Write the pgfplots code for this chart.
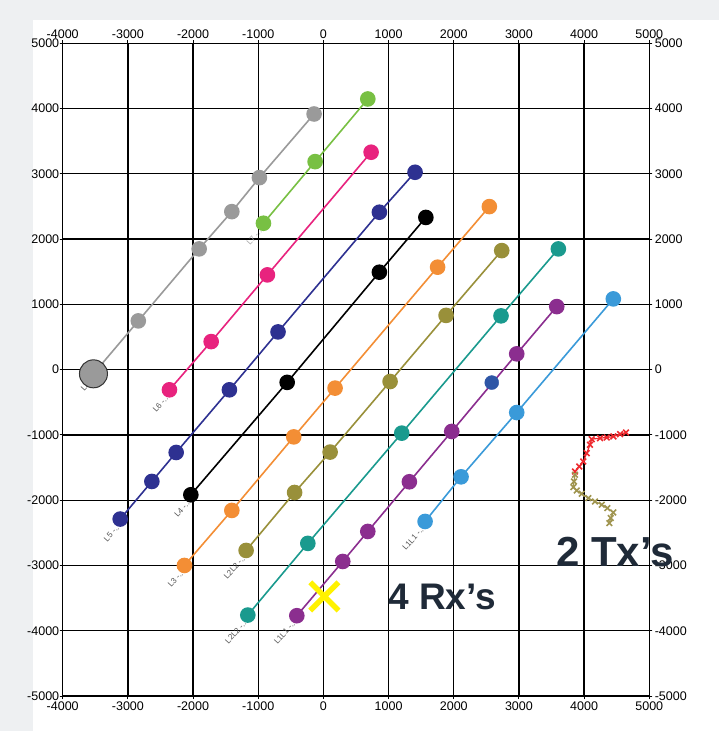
\documentclass[border=0pt]{standalone}
\usepackage{fontspec}
\setmainfont{Liberation Sans}
\usepackage{pgfplots}
\pgfplotsset{compat=1.18}
\definecolor{bgcol}{HTML}{EEF0F2}
\definecolor{cgray}{HTML}{9A9A9A}
\definecolor{cgreen}{HTML}{78C043}
\definecolor{cpink}{HTML}{E8237E}
\definecolor{cnavy}{HTML}{2E3191}
\definecolor{corange}{HTML}{F38E35}
\definecolor{colive}{HTML}{99903A}
\definecolor{cteal}{HTML}{1A9A8E}
\definecolor{cpurple}{HTML}{8B2E8F}
\definecolor{croyal}{HTML}{2E56A6}
\definecolor{clblue}{HTML}{3A9AD9}
\definecolor{cyellow}{HTML}{FFF200}
\definecolor{cred}{HTML}{EE2A2F}
\definecolor{ctxolive}{HTML}{A09550}
\definecolor{ctext}{HTML}{1F2A38}
\tikzset{lab/.style={font=\fontsize{8}{8}\selectfont, text=black!68, rotate=48, inner sep=0.5pt}}
\begin{document}
\begin{tikzpicture}
\fill[bgcol] (-62.7pt,-35pt) rectangle (656.3pt,696pt);
\fill[white] (-29.7pt,-35pt) rectangle (656.3pt,676pt);
\pgfplotsset{
  base/.style={
    scale only axis, width=586.6pt, height=652.7pt,
    at={(0pt,0pt)}, anchor=south west,
    xmin=-4000, xmax=5000, ymin=-5000, ymax=5000,
    xtick={-4000,-3000,...,5000}, ytick={-5000,-4000,...,5000},
    scaled ticks=false,
    /pgf/number format/1000 sep={},
    /pgf/number format/assume math mode=true,
    tick label style={font=\fontsize{12.5}{12.5}\selectfont, text=black},
    tick align=outside, major tick length=3pt,
    tick style={black, line width=1pt},
    axis line style={black, line width=1.4pt},
  },
  mk/.style={line width=1.6pt, mark=*, mark size=7pt, mark options={solid}},
}
\begin{axis}[base, grid=major, grid style={black, line width=1.3pt}, clip=false,
  xticklabel style={yshift=1pt}, yticklabel style={xshift=3pt}]
% L8 gray
\addplot[cgray, mk] coordinates {(-3528,-64) (-2840,747) (-1906,1850) (-1405,2421) (-982,2942) (-143,3917)};
\addplot[only marks, mark=*, mark size=14pt, mark options={fill=cgray, draw=black!80, line width=1pt}] coordinates {(-3528,-64)};
% L7 green
\addplot[cgreen, mk] coordinates {(-920,2243) (-127,3187) (681,4147)};
% L6 pink
\addplot[cpink, mk] coordinates {(-2362,-309) (-1722,430) (-859,1452) (732,3331)};
% L5 navy
\addplot[cnavy, mk] coordinates {(-3118,-2289) (-2632,-1713) (-2259,-1269) (-1442,-309) (-696,578) (859,2412) (1406,3024)};
% L4 black
\addplot[black, mk] coordinates {(-2034,-1917) (-556,-195) (859,1493) (1572,2332)};
% L3 orange
\addplot[corange, mk] coordinates {(-2132,-3000) (-1405,-2157) (-455,-1030) (179,-283) (1752,1570) (2546,2498)};
% L2 olive
\addplot[colive, mk] coordinates {(-1186,-2770) (-442,-1882) (103,-1263) (1023,-182) (1882,831) (2736,1824)};
% L2 teal
\addplot[cteal, mk] coordinates {(-1160,-3760) (-239,-2662) (1202,-973) (2725,824) (3605,1850)};
% L1 purple
\addplot[cpurple, mk] coordinates {(-408,-3770) (297,-2939) (681,-2479) (1319,-1718) (1969,-947) (2966,242) (3580,966)};
\addplot[croyal, only marks, mark=*, mark size=7pt] coordinates {(2583,-198)};
% L1 light blue
\addplot[clblue, mk] coordinates {(1560,-2326) (2112,-1642) (2966,-657) (4448,1084)};
% Tx tracks
\addplot[cred, line width=1.2pt, mark=x, mark size=4pt, mark options={line width=1.6pt}] coordinates {
(4643,-963) (4551,-988) (4449,-1024) (4347,-1040) (4244,-1049) (4117,-1065) (4090,-1152) (4040,-1279) (3988,-1407) (3926,-1484) (3860,-1560)};
\addplot[ctxolive, line width=1.2pt, mark=x, mark size=4pt, mark options={line width=1.6pt}] coordinates {
(3860,-1611) (3845,-1713) (3834,-1800) (3886,-1851) (3963,-1902) (4064,-1968) (4167,-2020) (4270,-2070) (4356,-2121) (4448,-2188) (4408,-2274) (4387,-2351)};
% Rx
\addplot[cyellow, only marks, mark=x, mark size=20pt, mark options={line width=5.5pt}] coordinates {(15,-3475)};
% line labels
\node[lab, anchor=east] at (axis cs:-3600,-200) {L8};
\node[lab, anchor=east] at (axis cs:-2400,-410) {L6 -..};
\node[lab, anchor=east] at (axis cs:-3150,-2400) {L5 -..};
\node[lab, anchor=east] at (axis cs:-2070,-2020) {L4 -..};
\node[lab, anchor=east] at (axis cs:-2170,-3100) {L3 -..};
\node[lab, anchor=east] at (axis cs:-1220,-2870) {L2L2 -..};
\node[lab, anchor=east] at (axis cs:-1200,-3860) {L2L2 -..};
\node[lab, anchor=east] at (axis cs:-450,-3870) {L1L1 -..};
\node[lab, anchor=east] at (axis cs:1520,-2430) {L1L1 -..};
\node[lab, anchor=east, text=black!35] at (axis cs:-960,2140) {L7 -..};
\end{axis}
\begin{axis}[base, clip=false, xticklabel pos=upper, yticklabel pos=right,
  xticklabel style={yshift=-2pt}, yticklabel style={xshift=-1pt}]
\addplot[draw=none] coordinates {(0,0)};
\node[anchor=base west, inner sep=0pt, text=ctext, font=\bfseries\fontsize{37}{37}\selectfont] at (axis cs:992,-3678) {4 Rx’s};
\node[anchor=base west, inner sep=0pt, text=ctext, font=\bfseries\fontsize{42}{42}\selectfont] at (axis cs:3569,-3015) {2 Tx’s};
\end{axis}
\pgfresetboundingbox
\path (-62.7pt,-35pt) rectangle (656.3pt,696pt);
\end{tikzpicture}
\end{document}
